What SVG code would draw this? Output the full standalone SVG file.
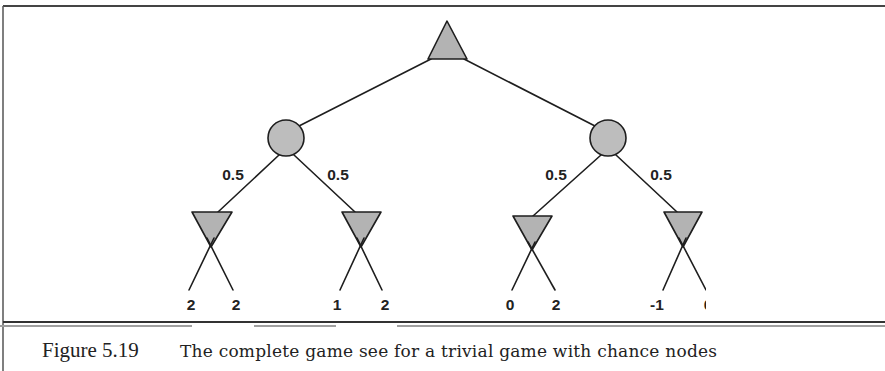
<svg xmlns="http://www.w3.org/2000/svg" width="885" height="371" viewBox="0 0 885 371">
<style>
.edge{stroke:#1e1e1e;stroke-width:1.6;fill:none;stroke-linecap:round}
.max,.min{fill:#b3b3b3;stroke:#1e1e1e;stroke-width:1.6;stroke-linejoin:round}
.chance{fill:#bdbdbd;stroke:#1e1e1e;stroke-width:1.6}
.prob{font-family:"Liberation Sans",Arial,sans-serif;font-weight:bold;font-size:15.5px;fill:#222;text-anchor:middle}
.leaf{font-family:"Liberation Sans",Arial,sans-serif;font-weight:bold;font-size:15.5px;fill:#222;text-anchor:middle}
.fig{font-family:"Liberation Serif","Times New Roman",serif;font-size:21px;fill:#222}
.cap{font-family:"DejaVu Serif","Liberation Serif",serif;font-size:17px;fill:#222}
</style>
<defs>
<clipPath id="tc"><rect x="0" y="0" width="706" height="371"/></clipPath>
</defs>
<rect width="885" height="371" fill="#ffffff"/>
<g id="frame">
<line x1="3" y1="6" x2="885" y2="6" stroke="#444" stroke-width="2"/>
<line x1="3" y1="6" x2="3" y2="371" stroke="#555" stroke-width="1.5"/>
<line x1="3" y1="322" x2="885" y2="322" stroke="#333" stroke-width="2"/>
<line x1="0" y1="326" x2="192" y2="326" stroke="#a0a0a0" stroke-width="2"/>
<line x1="254" y1="326" x2="336" y2="326" stroke="#a0a0a0" stroke-width="2"/>
<line x1="397" y1="326" x2="885" y2="326" stroke="#a0a0a0" stroke-width="2"/>
</g>
<g clip-path="url(#tc)">
<g id="connectors">
<line class="edge" x1="431" y1="59" x2="299" y2="126"/>
<line class="edge" x1="464" y1="59" x2="595" y2="126"/>
<line class="edge" x1="279" y1="155" x2="218" y2="212"/>
<line class="edge" x1="294" y1="155" x2="355" y2="212"/>
<line class="edge" x1="601" y1="155" x2="533" y2="216"/>
<line class="edge" x1="616" y1="155" x2="677" y2="212"/>
</g>
<g id="root"><polygon class="max" points="447,21 428,59 467,59"/></g>
<g id="chance-left"><circle class="chance" cx="286" cy="138" r="18"/></g>
<g id="chance-right"><circle class="chance" cx="608" cy="138" r="18"/></g>
<g id="min1"><polygon class="min" points="192,212 232,212 211,247"/></g>
<g id="min2"><polygon class="min" points="342,212 381,212 361,247"/></g>
<g id="min3"><polygon class="min" points="513,216 552,216 532,250"/></g>
<g id="min4"><polygon class="min" points="664,212 702,212 683,247"/></g>
<g id="leaf-edges">
<line class="edge" x1="214" y1="238" x2="189" y2="290"/>
<line class="edge" x1="207" y1="238" x2="233" y2="290"/>
<line class="edge" x1="364" y1="238" x2="340" y2="290"/>
<line class="edge" x1="357" y1="238" x2="382" y2="290"/>
<line class="edge" x1="535" y1="242" x2="512" y2="290"/>
<line class="edge" x1="528" y1="242" x2="555" y2="290"/>
<line class="edge" x1="686" y1="238" x2="663" y2="290"/>
<line class="edge" x1="679" y1="238" x2="706" y2="290"/>
</g>
<g id="labels">
<text class="prob" x="233" y="180">0.5</text>
<text class="prob" x="338" y="180">0.5</text>
<text class="prob" x="556" y="180">0.5</text>
<text class="prob" x="661" y="180">0.5</text>
<text class="leaf" x="191" y="310">2</text>
<text class="leaf" x="236" y="310">2</text>
<text class="leaf" x="337" y="310">1</text>
<text class="leaf" x="385" y="310">2</text>
<text class="leaf" x="510" y="310">0</text>
<text class="leaf" x="556" y="310">2</text>
<text class="leaf" x="657" y="310">-1</text>
<text class="leaf" x="708" y="310">0</text>
</g>
</g>
<g id="caption">
<text class="fig" x="42" y="357">Figure 5.19</text>
<text class="cap" x="180" y="357" textLength="537">The complete game see for a trivial game with chance nodes</text>
</g>
</svg>
